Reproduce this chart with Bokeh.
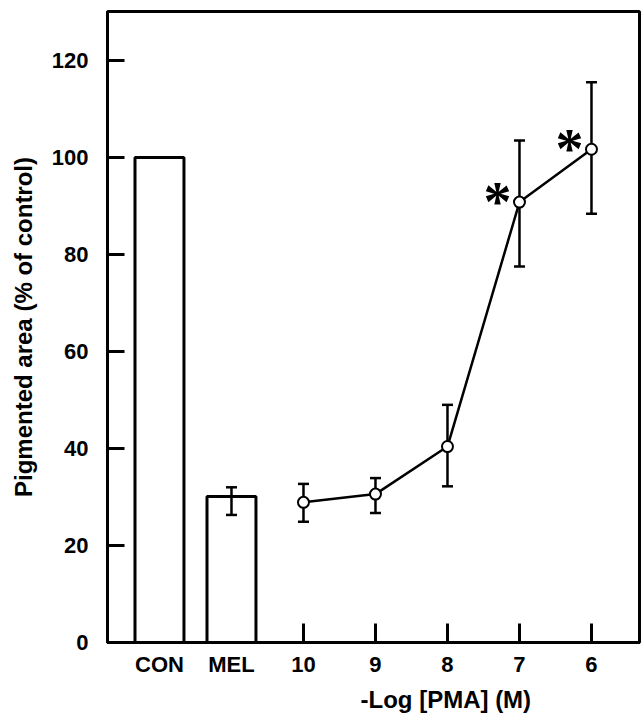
import numpy as np
from bokeh.plotting import figure
from bokeh.models import FixedTicker, Title
from bokeh.core.properties import value
from bokeh.embed import file_html
from bokeh.resources import INLINE

# ---- data ----
control_labels = ["CON", "MEL"]
control_values = [100.0, 30.1]
control_upper = [None, 32.0]
control_lower = [None, 26.3]

pma_labels = ["10", "9", "8", "7", "6"]
pma_values = [28.9, 30.6, 40.4, 90.8, 101.7]
pma_upper = [32.7, 33.9, 49.0, 103.5, 115.5]
pma_lower = [24.9, 26.7, 32.2, 77.5, 88.4]
pma_significant = [False, False, False, True, True]

y_ticks = [0, 20, 40, 60, 80, 100, 120]
y_label = "Pigmented area (% of control)"
x_label = "-Log [PMA] (M)"

# ---- positions ----
all_labels = control_labels + pma_labels
positions = list(range(len(all_labels)))
bar_x = positions[:len(control_labels)]
pma_x = positions[len(control_labels):]

FONT = "Liberation Sans"

p = figure(width=641, height=717, x_range=(-0.722, 6.667), y_range=(0, 130.1),
           output_backend="svg", toolbar_location=None,
           min_border_left=107, min_border_right=2, min_border_top=11, min_border_bottom=74)
p.grid.visible = False
p.outline_line_color = "black"
p.outline_line_width = 3
p.outline_line_alpha = 1.0
p.background_fill_color = "white"
p.border_fill_color = "white"

ya = p.yaxis[0]
ya.ticker = FixedTicker(ticks=y_ticks, minor_ticks=[])
ya.major_tick_in = 17
ya.major_tick_out = 0
ya.minor_tick_in = 0
ya.minor_tick_out = 0
ya.axis_line_width = 3
ya.major_tick_line_width = 3
ya.major_label_text_font = FONT
ya.major_label_text_font_size = "22px"
ya.major_label_text_font_style = "bold"
ya.major_label_text_color = "black"
ya.major_label_standoff = 19
ya.axis_label = y_label
ya.axis_label_text_font = FONT
ya.axis_label_text_font_size = "24px"
ya.axis_label_text_font_style = "bold"
ya.axis_label_text_color = "black"
ya.axis_label_standoff = 12

xa = p.xaxis[0]
xa.ticker = FixedTicker(ticks=positions, minor_ticks=[])
xa.major_label_overrides = {pos: lab for pos, lab in zip(positions, all_labels)}
xa.major_tick_in = 19
xa.major_tick_out = 0
xa.minor_tick_in = 0
xa.minor_tick_out = 0
xa.axis_line_width = 3
xa.major_tick_line_width = 3
xa.major_label_text_font = FONT
xa.major_label_text_font_size = "22px"
xa.major_label_text_font_style = "bold"
xa.major_label_text_color = "black"
xa.major_label_standoff = 9

# bars (drawn above the axis so the inward ticks under CON/MEL are hidden)
p.vbar(x=bar_x, top=control_values, bottom=0, width=0.68, fill_color="white",
       line_color="black", line_width=3, level="overlay")

ex = [bar_x[i] for i, u in enumerate(control_upper) if u is not None]
eu = [u for u in control_upper if u is not None]
el = [l for l in control_lower if l is not None]
p.segment(x0=ex, y0=el, x1=ex, y1=eu, line_color="black", line_width=2.5, level="overlay")
p.scatter(x=ex + ex, y=el + eu, marker="dash", size=11, line_color="black",
          line_width=2.5, level="overlay")

# PMA series
p.segment(x0=pma_x, y0=pma_lower, x1=pma_x, y1=pma_upper, line_color="black", line_width=2.5)
p.scatter(x=pma_x + pma_x, y=pma_lower + pma_upper, marker="dash", size=11,
          line_color="black", line_width=2.5)
p.line(x=pma_x, y=pma_values, line_color="black", line_width=2.5)
p.scatter(x=pma_x, y=pma_values, marker="circle", size=11, fill_color="white",
          line_color="black", line_width=2)

sx = [x for x, s in zip(pma_x, pma_significant) if s]
sy = [v for v, s in zip(pma_values, pma_significant) if s]
p.text(x=sx, y=sy, text=["*"] * len(sx), text_font=value("Liberation Serif"),
       text_font_style="bold", text_font_size="56px", text_align="center",
       text_baseline="middle", x_offset=-22, y_offset=0, text_color="black")

xt = Title(text=x_label, align="left", offset=253, text_font=FONT, text_font_size="24px",
           text_font_style="bold", text_color="black", standoff=9)
p.add_layout(xt, "below")

open("out.html", "w").write(file_html(p, INLINE))
